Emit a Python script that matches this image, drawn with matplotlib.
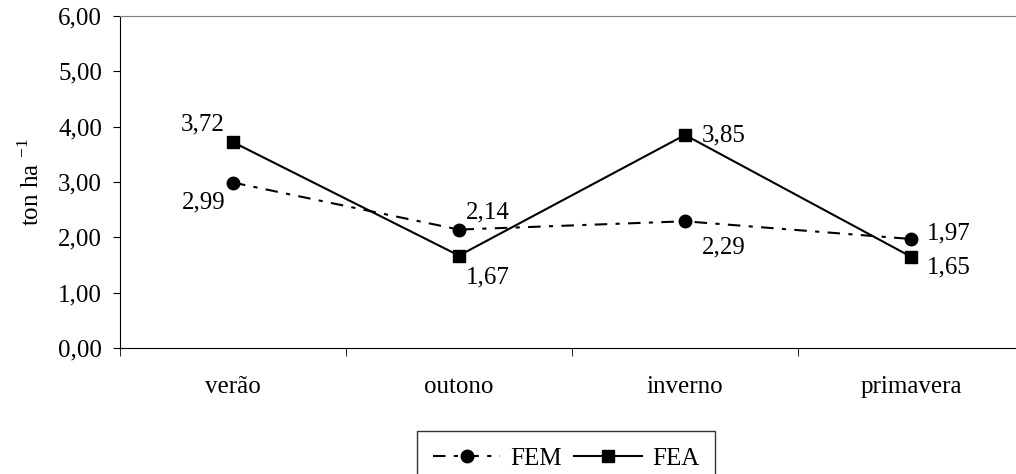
import matplotlib.pyplot as plt
import numpy as np

plt.rcParams['font.family'] = ['Liberation Serif', 'DejaVu Serif']
plt.rcParams['mathtext.fontset'] = 'custom'
plt.rcParams['mathtext.rm'] = 'Liberation Serif'

estacoes = ['verão', 'outono', 'inverno', 'primavera']
fem = [2.99, 2.14, 2.29, 1.97]
fea = [3.72, 1.67, 3.85, 1.65]
# label offsets (points) for each value
off_fem = [(-21, -14), (21, 12), (28, -19), (27, 4)]
off_fea = [(-22, 13), (21, -16), (28, 0), (27, -8)]

fig = plt.figure(figsize=(10.16, 4.74), dpi=100)
ax = fig.add_axes([120/1016, 1-348/474, 904/1016, 332/474])

x = np.arange(len(estacoes))
ax.plot(x, fem, color='black', lw=1.5, dashes=(6, 4, 2, 4), marker='o', ms=9, label='FEM')
ax.plot(x, fea, color='black', lw=1.5, marker='s', ms=9, label='FEA')

for xi, v, o in zip(x, fem, off_fem):
    ax.annotate(f'{v:.2f}'.replace('.', ','), (xi, v), xytext=o, textcoords='offset points',
                ha='center', va='center', fontsize=18)
for xi, v, o in zip(x, fea, off_fea):
    ax.annotate(f'{v:.2f}'.replace('.', ','), (xi, v), xytext=o, textcoords='offset points',
                ha='center', va='center', fontsize=18)

ax.set_xlim(-0.5, 3.5)
ax.set_ylim(0, 6)
ax.set_yticks(np.arange(0, 7, 1))
ax.set_yticklabels([f'{v:.2f}'.replace('.', ',') for v in np.arange(0, 7, 1)], fontsize=18)
ax.set_xticks(x)
ax.set_xticklabels(estacoes, fontsize=18)
ax.set_xticks(np.arange(-0.5, 4, 1), minor=True)
ax.tick_params(axis='x', which='major', length=0, pad=20)
ax.tick_params(axis='x', which='minor', length=6, direction='out')
ax.tick_params(axis='y', length=5, direction='out', pad=8)
ax.set_ylabel('ton ha $^{\\mathrm{-1}}$', fontsize=18, labelpad=10)

ax.spines['top'].set_color('#808080')
ax.spines['right'].set_visible(False)

leg = fig.legend(loc='upper center', bbox_to_anchor=(566/1016, 1-431/474), ncol=2, fontsize=18,
                 frameon=True, fancybox=False, edgecolor='black', handlelength=2.7,
                 columnspacing=0.5, handletextpad=0.4, borderpad=0.65, borderaxespad=0)
leg.get_frame().set_linewidth(1.0)

fig.savefig('out.png', dpi=100)
